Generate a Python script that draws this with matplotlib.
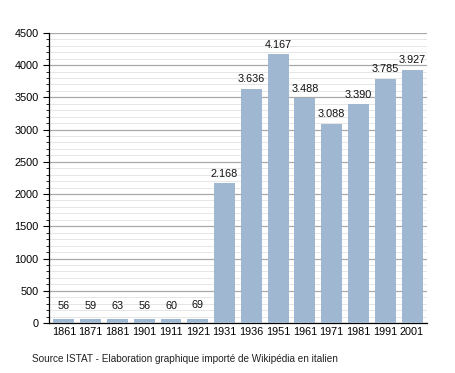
import matplotlib
matplotlib.use('Agg')
import matplotlib.pyplot as plt
from matplotlib.ticker import MultipleLocator

years = ['1861', '1871', '1881', '1901', '1911', '1921', '1931',
         '1936', '1951', '1961', '1971', '1981', '1991', '2001']
population = [56, 59, 63, 56, 60, 69, 2168, 3636, 4167, 3488, 3088, 3390, 3785, 3927]
labels = ['56', '59', '63', '56', '60', '69', '2.168', '3.636', '4.167',
          '3.488', '3.088', '3.390', '3.785', '3.927']

plt.rcParams['font.family'] = ['Liberation Sans', 'DejaVu Sans']

fig = plt.figure(figsize=(4.55, 3.73), dpi=100)
ax = fig.add_axes([0.108, 0.134, 0.83, 0.778])

x = range(len(years))
ax.bar(x, population, width=0.78, color='#a0b7d1', zorder=3)
for xi, v, lab in zip(x, population, labels):
    off = 130 if v < 500 else 70
    ax.text(xi, v + off, lab, ha='center', va='bottom', fontsize=7.8, color='#111111', zorder=4)

ax.set_xlim(-0.55, len(years) - 0.45)
ax.set_ylim(0, 4500)
ax.set_xticks(list(x))
ax.set_xticklabels(years, fontsize=7.8)
ax.yaxis.set_major_locator(MultipleLocator(500))
ax.yaxis.set_minor_locator(MultipleLocator(100))
ax.tick_params(axis='y', labelsize=7.8, length=4, width=0.8)
ax.tick_params(axis='y', which='minor', length=2, width=0.6)
ax.tick_params(axis='x', length=0, pad=3)

ax.grid(axis='y', which='major', color='#a8a8a8', linewidth=0.9, zorder=0)
ax.grid(axis='y', which='minor', color='#e6e6e6', linewidth=0.7, zorder=0)

for s in ['top', 'right']:
    ax.spines[s].set_visible(False)
ax.spines['left'].set_linewidth(0.9)
ax.spines['bottom'].set_linewidth(0.9)

fig.text(0.07, 0.03, 'Source ISTAT - Elaboration graphique importé de Wikipédia en italien',
         fontsize=7.2, color='#222222')

fig.savefig('out.png', dpi=100)
